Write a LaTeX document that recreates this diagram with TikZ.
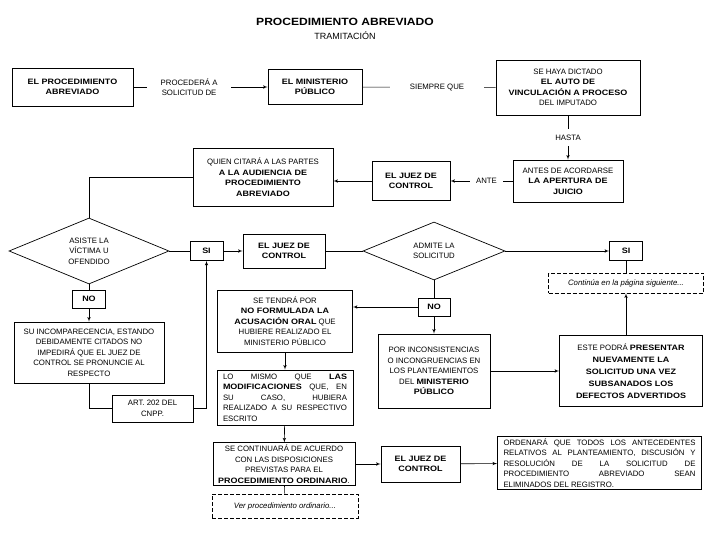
\documentclass[tikz,border=0pt]{standalone}
\usepackage{fontspec}
\setmainfont{Liberation Sans}[BoldFeatures={FakeStretch=1.15}]
\usepackage{tikz}
\usetikzlibrary{shapes.geometric, arrows, positioning}

\newcommand{\boxfont}{\fontsize{7.8}{10.5}\selectfont}

\begin{document}
\begin{tikzpicture}[x=1pt, y=-1pt,
    box/.style={rectangle, draw=black, line width=0.7pt, align=center, inner sep=2pt, font=\boxfont},
    bbox/.style={box, font=\boxfont\bfseries},
    dbox/.style={box, dash pattern=on 4pt off 2pt, font=\boxfont\itshape},
    decision/.style={diamond, draw=black, line width=0.7pt, align=center, inner sep=0pt, font=\boxfont},
    line/.style={draw, -latex', semithick},
    link/.style={draw, semithick},
    lbl/.style={fill=white, font=\boxfont, align=center}]

    \useasboundingbox (0,0) rectangle (720,540);

    % encabezado
    \node [font=\fontsize{10.5}{12}\selectfont\bfseries] (title) at (345,22) {PROCEDIMIENTO ABREVIADO};
    \node [font=\fontsize{9}{10}\selectfont, below=-1pt of title] (tram) {TRAMITACIÓN};

    % fila superior
    \node [bbox, minimum width=121pt, minimum height=38pt] (proc) at (72.5,87) {EL PROCEDIMIENTO\\ABREVIADO};
    \node [bbox, minimum width=94pt, minimum height=35pt] (mp) at (315,87) {EL MINISTERIO\\PÚBLICO};
    \node [box, minimum width=144pt, minimum height=55pt] (auto) at (568,87.5) {SE HAYA DICTADO\\\textbf{EL AUTO DE}\\\textbf{VINCULACIÓN A PROCESO}\\DEL IMPUTADO};
    \node [box, minimum width=110pt, minimum height=42pt] (antes) at (568,181) {ANTES DE ACORDARSE\\\textbf{LA APERTURA DE}\\\textbf{JUICIO}};
    \node [bbox, minimum width=78pt, minimum height=39pt] (juez1) at (411,181) {EL JUEZ DE\\CONTROL};
    \node [box, minimum width=140pt, minimum height=58pt] (quien) at (263,177) {QUIEN CITARÁ A LAS PARTES\\\textbf{A LA AUDIENCIA DE}\\\textbf{PROCEDIMIENTO}\\\textbf{ABREVIADO}};

    % fila de decisiones
    \node [decision, minimum width=160pt, minimum height=66pt, aspect=2.4] (asiste) at (89,251) {ASISTE  LA\\VÍCTIMA U\\OFENDIDO};
    \node [bbox, minimum width=33pt, minimum height=19pt] (si1) at (206.5,251) {SI};
    \node [bbox, minimum width=82pt, minimum height=34pt] (juez2) at (284,251) {EL JUEZ DE\\CONTROL};
    \node [decision, minimum width=142pt, minimum height=58pt, aspect=2.4] (admite) at (434,251) {ADMITE LA\\SOLICITUD};
    \node [bbox, minimum width=33pt, minimum height=19pt] (si2) at (626,251) {SI};
    \node [dbox, minimum width=155pt, minimum height=20pt] (cont) at (626,283) {Continúa en la página siguiente...};

    % rama NO izquierda
    \node [bbox, minimum width=33pt, minimum height=18pt] (no1) at (89,299) {NO};
    \node [box, minimum width=150pt, minimum height=61pt] (su) at (89,352.5) {SU INCOMPARECENCIA, ESTANDO\\DEBIDAMENTE CITADOS NO\\IMPEDIRÁ QUE EL JUEZ DE\\CONTROL SE PRONUNCIE AL\\RESPECTO};
    \node [box, minimum width=81pt, minimum height=27pt] (art) at (152.5,408.5) {ART.  202 DEL\\CNPP.};

    % rama NO derecha
    \node [bbox, minimum width=32pt, minimum height=18pt] (no2) at (434,307) {NO};
    \node [box, minimum width=112pt, minimum height=74pt] (por) at (434,371) {POR INCONSISTENCIAS\\O INCONGRUENCIAS EN\\LOS PLANTEAMIENTOS\\DEL \textbf{MINISTERIO}\\\textbf{PÚBLICO}};
    \node [box, minimum width=143pt, minimum height=71pt] (este) at (631,371) {ESTE PODRÁ \textbf{PRESENTAR}\\[1.5pt]\textbf{NUEVAMENTE LA}\\[1.5pt]\textbf{SOLICITUD UNA VEZ}\\[1.5pt]\textbf{SUBSANADOS LOS}\\[1.5pt]\textbf{DEFECTOS ADVERTIDOS}};

    % columna central
    \node [box, minimum width=135pt, minimum height=62pt] (tendra) at (285,321) {SE TENDRÁ POR\\\textbf{NO FORMULADA LA}\\\textbf{ACUSACIÓN ORAL} QUE\\HUBIERE REALIZADO EL\\MINISTERIO PÚBLICO};
    \node [box, minimum width=136pt, minimum height=55pt, text width=124pt, align=justify] (mismo) at (285,397.5) {LO MISMO QUE \textbf{LAS}\linebreak \textbf{MODIFICACIONES} QUE, EN\linebreak SU CASO, HUBIERA\linebreak REALIZADO A SU RESPECTIVO\linebreak ESCRITO};
    \node [box, minimum width=142pt, minimum height=42pt] (seguir) at (284,464) {SE CONTINUARÁ DE ACUERDO\\CON LAS DISPOSICIONES\\PREVISTAS PARA EL\\\textbf{PROCEDIMIENTO ORDINARIO}.};
    \node [dbox, minimum width=146pt, minimum height=24pt] (ver) at (285,506) {Ver procedimiento ordinario...};
    \node [bbox, minimum width=79pt, minimum height=36pt] (juez3) at (420.5,464) {EL JUEZ DE\\CONTROL};
    \node [box, minimum width=204pt, minimum height=51pt, text width=192pt, align=justify] (ordena) at (599.5,463) {ORDENARÁ QUE TODOS LOS ANTECEDENTES\linebreak RELATIVOS AL PLANTEAMIENTO, DISCUSIÓN Y\linebreak RESOLUCIÓN DE LA SOLICITUD DE\linebreak PROCEDIMIENTO ABREVIADO SEAN\linebreak ELIMINADOS DEL REGISTRO.};

    % conectores
    \path [line] (proc) -- node[lbl, pos=0.415, inner xsep=14pt] {PROCEDERÁ A\\SOLICITUD DE} (mp);
    \path [link] (mp) -- node[lbl, pos=0.56, inner xsep=20pt] {SIEMPRE QUE} (auto);
    \path [line] (auto) -- node[lbl, inner ysep=6pt] {HASTA} (antes);
    \path [line] (antes) -- node[lbl, pos=0.42, inner xsep=6pt] {ANTE} (juez1);
    \path [line] (juez1.west) -- (juez1.west -| quien.east);
    \path [link] (quien.west) -| (asiste.north);

    \path [link] (asiste) -- (si1);
    \path [line] (si1) -- (juez2);
    \path [link] (juez2) -- (admite);
    \path [line] (admite) -- (si2);
    \path [link] (si2) -- (cont);
    \path [line] (este.north -| cont.south) -- (cont.south);

    \path [link] (asiste) -- (no1);
    \path [line] (no1) -- (su);
    \path [link] (su.south) |- (art.west);
    \path [line] (art.east) -| (si1.south);

    \path [link] (admite) -- (no2);
    \path [line] (no2.west) -- (no2.west -| tendra.east);
    \path [line] (no2) -- (por);
    \path [line] (por) -- (este);

    \path [line] (tendra) -- (mismo);
    \path [line] (mismo) -- (seguir);
    \path [link] (seguir) -- (ver);
    \path [line] (seguir) -- (juez3);
    \path [line] (juez3) -- (ordena);
\end{tikzpicture}
\end{document}
